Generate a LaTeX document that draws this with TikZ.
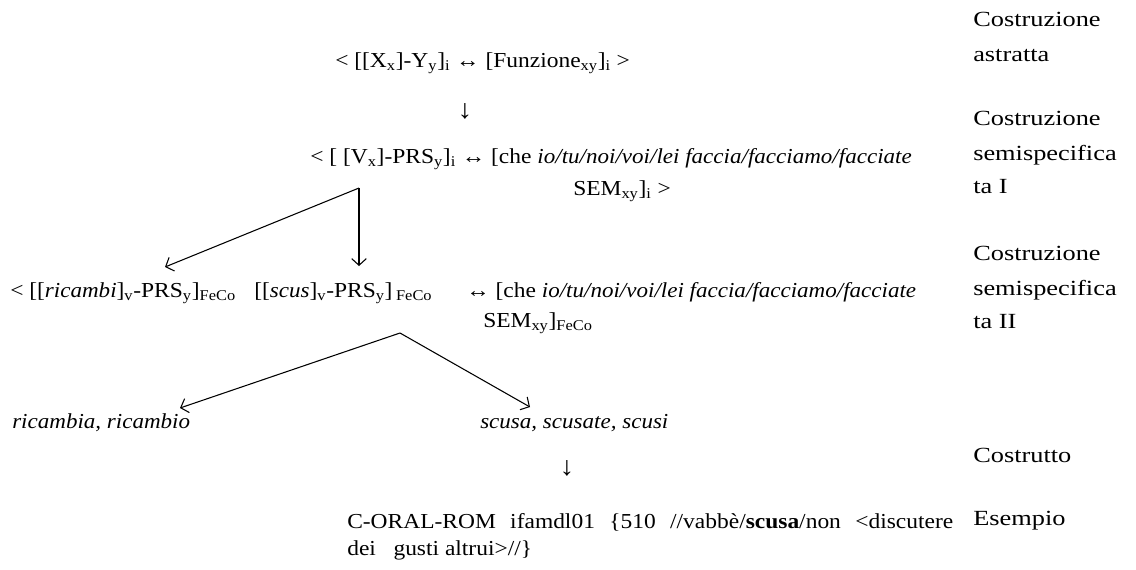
\documentclass[tikz,border=0pt]{standalone}
\usepackage{fontspec}
\setmainfont{Liberation Serif}[FakeStretch=1.1,ItalicFeatures={FakeStretch=1.08}]
\newfontfamily\etichfont{Liberation Serif}[FakeStretch=1.22]
\usetikzlibrary{arrows.meta}
\begin{document}
\begin{tikzpicture}[x=0.75pt,y=-0.75pt,
    testo/.style={anchor=base west,inner sep=0pt,font=\fontsize{16pt}{26pt}\selectfont},
    etich/.style={anchor=base west,inner sep=0pt,font=\etichfont\fontsize{16.2pt}{26pt}\selectfont},
    giu/.style={anchor=center,inner sep=0pt,font=\fontsize{20pt}{24pt}\selectfont},
    freccia/.style={line width=0.8pt,-{Straight Barb[length=5pt,width=11pt]}}]
\useasboundingbox (0,0) rectangle (1136,569);

% costruzione astratta
\node[testo] (astr) at (335,67) {< [[X\textsubscript{x}]-Y\textsubscript{y}]\textsubscript{i} ↔ [Funzione\textsubscript{xy}]\textsubscript{i} >};
\node[giu] (giuA) at (465,111) {↓};

% semispecificata I
\node[testo] (semiA) at (310,163) {< [ [V\textsubscript{x}]-PRS\textsubscript{y}]\textsubscript{i} ↔ [che \textit{io/tu/noi/voi/lei faccia/facciamo/facciate}};
\node[testo] (semiAb) at (573,195) {SEM\textsubscript{xy}]\textsubscript{i} >};

\path[coordinate] (359,188) coordinate(ramoA)
                  (165,267) coordinate(puntaA)
                  (359,266) coordinate(puntaB);
\draw[freccia] (ramoA) -- (puntaA);
\draw[freccia] (ramoA) -- (puntaB);

% semispecificata II
\node[testo] (ricambi) at (10,297) {< [[\textit{ricambi}]\textsubscript{v}-PRS\textsubscript{y}]\textsubscript{FeCo}};
\node[testo] (scus) at (254,297) {[[\textit{scus}]\textsubscript{v}-PRS\textsubscript{y}]\,\textsubscript{FeCo}};
\node[testo] (semiB) at (466,297) {↔ [che \textit{io/tu/noi/voi/lei faccia/facciamo/facciate}};
\node[testo] (semiBb) at (483,327) {SEM\textsubscript{xy}]\textsubscript{FeCo}};

\path[coordinate] (400,333) coordinate(ramoB)
                  (180,408) coordinate(puntaC)
                  (530,407) coordinate(puntaD);
\draw[freccia] (ramoB) -- (puntaC);
\draw[freccia] (ramoB) -- (puntaD);

% costrutti
\node[testo] (costrA) at (12,428) {\textit{ricambia, ricambio}};
\node[testo] (costrB) at (480,428) {\textit{scusa, scusate, scusi}};
\node[giu] (giuB) at (567,468) {↓};

% esempio
\node[testo] (esA) at (347,528) {\hbox to 454.5pt{C-ORAL-ROM ifamdl01 \{510 //vabbè/\textbf{scusa}/non <discutere}};
\node[testo] (esB) at (347,555) {dei\ \ \ gusti altrui>//\}};

% etichette a destra
\node[etich] (etA) at (973,26) {Costruzione};
\node[etich] (etAb) at (973,61) {astratta};
\node[etich] (etB) at (973,125) {Costruzione};
\node[etich] (etBb) at (973,160) {semispecifica};
\node[etich] (etBc) at (973,193) {ta I};
\node[etich] (etC) at (973,260) {Costruzione};
\node[etich] (etCb) at (973,295) {semispecifica};
\node[etich] (etCc) at (973,328) {ta II};
\node[etich] (etD) at (973,462) {Costrutto};
\node[etich] (etE) at (973,525) {Esempio};

\end{tikzpicture}
\end{document}
